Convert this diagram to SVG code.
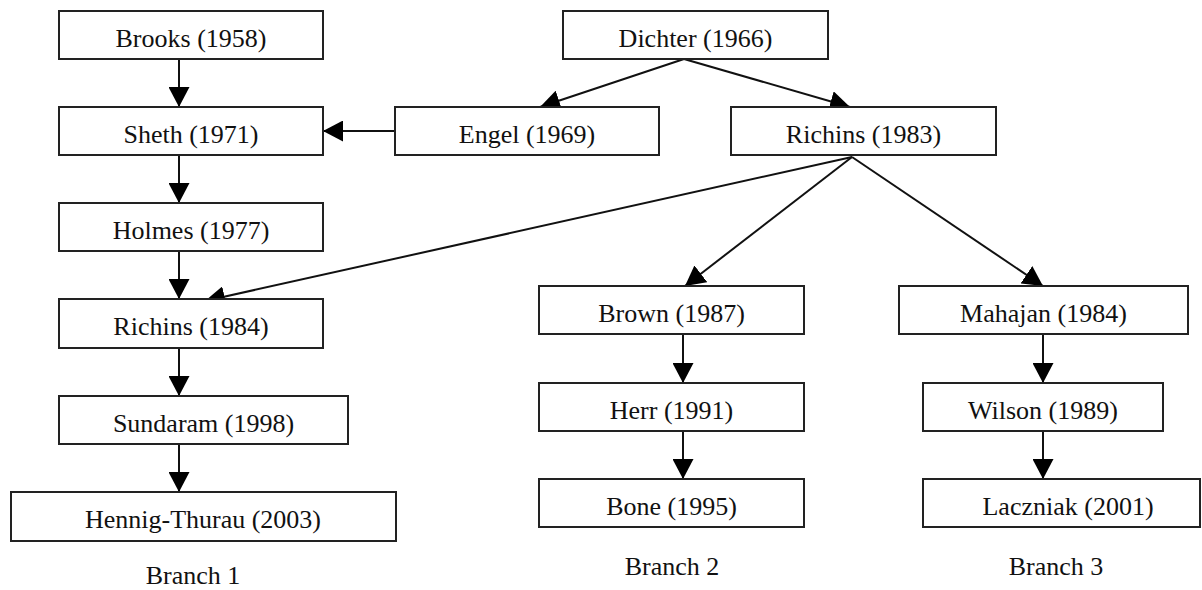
<svg xmlns="http://www.w3.org/2000/svg" width="1202" height="590" viewBox="0 0 1202 590">
<style>
.box{fill:#fff;stroke:#222;stroke-width:2}
.lbl{font-family:"Liberation Serif","Times New Roman",serif;font-size:26px;fill:#111;text-anchor:middle}
.edge{stroke:#111;stroke-width:2;fill:none;marker-end:url(#ah)}
</style>
<defs>
<marker id="ah" markerUnits="userSpaceOnUse" markerWidth="20" markerHeight="21" refX="20" refY="10.5" orient="auto" viewBox="0 0 20 21">
<path d="M0,0 L20,10.5 L0,21 Z" fill="#000"/>
</marker>
</defs>
<rect width="1202" height="590" fill="#fff"/>
<g id="connectors">
<line class="edge" x1="179" y1="59" x2="179" y2="107"/>
<line class="edge" x1="179" y1="155" x2="179" y2="203"/>
<line class="edge" x1="179" y1="251" x2="179" y2="299"/>
<line class="edge" x1="179" y1="348" x2="179" y2="396"/>
<line class="edge" x1="179" y1="444" x2="179" y2="492"/>
<line class="edge" x1="395" y1="131" x2="323" y2="131"/>
<line class="edge" x1="684" y1="59" x2="540" y2="107"/>
<line class="edge" x1="684" y1="59" x2="850" y2="107"/>
<line class="edge" x1="852" y1="157" x2="205" y2="301"/>
<line class="edge" x1="852" y1="157" x2="685" y2="286"/>
<line class="edge" x1="852" y1="157" x2="1043" y2="286"/>
<line class="edge" x1="683" y1="334" x2="683" y2="383"/>
<line class="edge" x1="683" y1="431" x2="683" y2="479"/>
<line class="edge" x1="1043" y1="334" x2="1043" y2="383"/>
<line class="edge" x1="1043" y1="431" x2="1043" y2="479"/>
</g>
<g id="brooks"><rect class="box" x="59" y="11" width="264" height="48"/><text class="lbl" x="191" y="47">Brooks (1958)</text></g>
<g id="sheth"><rect class="box" x="59" y="107" width="264" height="48"/><text class="lbl" x="191" y="143">Sheth (1971)</text></g>
<g id="holmes"><rect class="box" x="59" y="203" width="264" height="48"/><text class="lbl" x="191" y="239">Holmes (1977)</text></g>
<g id="richins1984"><rect class="box" x="59" y="299" width="264" height="49"/><text class="lbl" x="191" y="335">Richins (1984)</text></g>
<g id="sundaram"><rect class="box" x="59" y="396" width="289" height="48"/><text class="lbl" x="203.5" y="432">Sundaram (1998)</text></g>
<g id="hennig"><rect class="box" x="11" y="492" width="385" height="49"/><text class="lbl" x="203" y="528">Hennig-Thurau (2003)</text></g>
<g id="dichter"><rect class="box" x="563" y="11" width="265" height="48"/><text class="lbl" x="695.5" y="47">Dichter (1966)</text></g>
<g id="engel"><rect class="box" x="395" y="107" width="264" height="48"/><text class="lbl" x="527" y="143">Engel (1969)</text></g>
<g id="richins1983"><rect class="box" x="731" y="107" width="265" height="48"/><text class="lbl" x="863.5" y="143">Richins (1983)</text></g>
<g id="brown"><rect class="box" x="539" y="286" width="265" height="48"/><text class="lbl" x="671.5" y="322">Brown (1987)</text></g>
<g id="herr"><rect class="box" x="539" y="383" width="265" height="48"/><text class="lbl" x="671.5" y="419">Herr (1991)</text></g>
<g id="bone"><rect class="box" x="539" y="479" width="265" height="48"/><text class="lbl" x="671.5" y="515">Bone (1995)</text></g>
<g id="mahajan"><rect class="box" x="899" y="286" width="289" height="48"/><text class="lbl" x="1043.5" y="322">Mahajan (1984)</text></g>
<g id="wilson"><rect class="box" x="923" y="383" width="240" height="48"/><text class="lbl" x="1043" y="419">Wilson (1989)</text></g>
<g id="laczniak"><rect class="box" x="923" y="479" width="277" height="48"/><text class="lbl" x="1068" y="515">Laczniak (2001)</text></g>
<g id="branch-labels">
<text class="lbl" x="193" y="584">Branch 1</text>
<text class="lbl" x="672" y="575">Branch 2</text>
<text class="lbl" x="1056" y="575">Branch 3</text>
</g>
</svg>
